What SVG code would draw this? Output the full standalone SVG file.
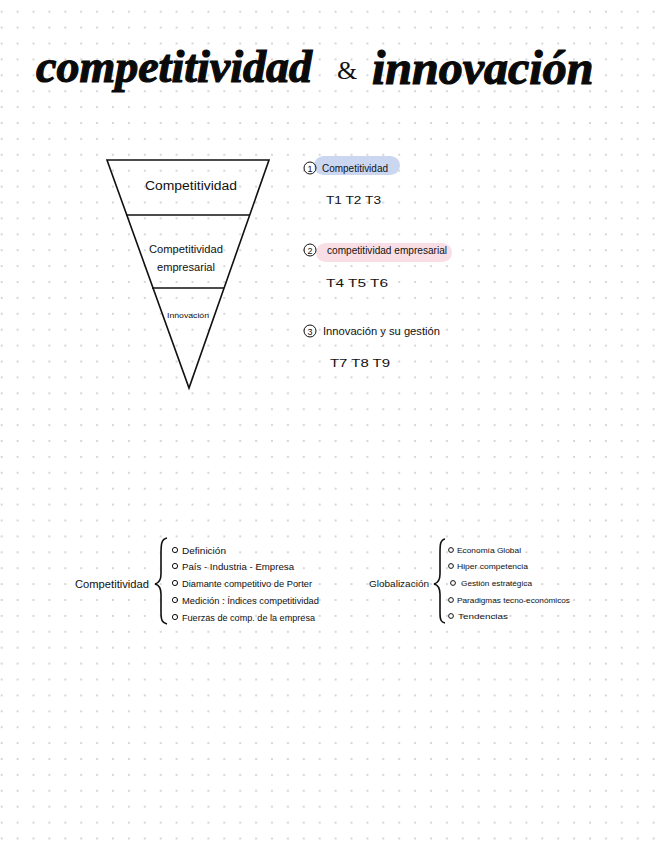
<svg xmlns="http://www.w3.org/2000/svg" width="656" height="848" viewBox="0 0 656 848">
<style>
.t{font-family:"Liberation Sans",Arial,sans-serif;fill:#111;}
.ln{stroke:#111;stroke-width:1.6;fill:none;}
.bul{stroke:#111;stroke-width:1;fill:none;}
.title{font-family:"Liberation Serif","Times New Roman",serif;font-style:italic;font-weight:bold;fill:#0a0a0a;stroke:#0a0a0a;stroke-width:1.2;}
</style>
<defs>
<pattern id="dots" x="1.7" y="11.7" width="15.9" height="15.9" patternUnits="userSpaceOnUse">
<circle cx="0" cy="0" r="0.9" fill="#c4c4c4"/>
<circle cx="15.9" cy="0" r="0.9" fill="#c4c4c4"/>
<circle cx="0" cy="15.9" r="0.9" fill="#c4c4c4"/>
<circle cx="15.9" cy="15.9" r="0.9" fill="#c4c4c4"/>
</pattern>
</defs>
<rect width="656" height="848" fill="#ffffff"/>
<rect width="656" height="848" fill="url(#dots)"/>

<g id="title">
<text class="title" x="36" y="82" font-size="46">competitividad</text>
<text x="337" y="79" font-size="26" font-family="Liberation Serif, serif" fill="#111">&amp;</text>
<text class="title" x="372" y="84" font-size="48">innovación</text>
</g>

<g id="pyramid">
<polygon class="ln" points="107,160 269,160 189,388"/>
<line class="ln" x1="126.3" y1="215" x2="249.7" y2="215"/>
<line class="ln" x1="152" y1="288" x2="224" y2="288"/>
<text class="t" x="191" y="190" font-size="12" text-anchor="middle" textLength="92" lengthAdjust="spacingAndGlyphs">Competitividad</text>
<text class="t" x="186" y="253" font-size="10" text-anchor="middle" textLength="74" lengthAdjust="spacingAndGlyphs">Competitividad</text>
<text class="t" x="186" y="271" font-size="10" text-anchor="middle" textLength="58" lengthAdjust="spacingAndGlyphs">empresarial</text>
<text class="t" x="188" y="318" font-size="8" text-anchor="middle" textLength="42" lengthAdjust="spacingAndGlyphs">Innovación</text>
</g>

<g id="topic1">
<rect x="314" y="156" width="86" height="19" rx="9.5" fill="#cbd7f1"/>
<circle class="bul" cx="310" cy="168" r="6" stroke-width="1.4"/>
<text class="t" x="310" y="171.5" font-size="9" text-anchor="middle">1</text>
<text class="t" x="322" y="172" font-size="10" textLength="66" lengthAdjust="spacingAndGlyphs">Competitividad</text>
<text class="t" x="326" y="204" font-size="10" textLength="55" lengthAdjust="spacingAndGlyphs">T1  T2  T3</text>
</g>

<g id="topic2">
<rect x="316" y="243" width="136" height="19" rx="9.5" fill="#f9dfe5"/>
<circle class="bul" cx="310" cy="250" r="6" stroke-width="1.4"/>
<text class="t" x="310" y="253.5" font-size="9" text-anchor="middle">2</text>
<text class="t" x="327" y="254" font-size="10" textLength="120" lengthAdjust="spacingAndGlyphs">competitividad empresarial</text>
<text class="t" x="326" y="287" font-size="10" textLength="62" lengthAdjust="spacingAndGlyphs">T4   T5   T6</text>
</g>

<g id="topic3">
<circle class="bul" cx="310" cy="331" r="6" stroke-width="1.4"/>
<text class="t" x="310" y="334.5" font-size="9" text-anchor="middle">3</text>
<text class="t" x="323" y="335" font-size="10" textLength="117" lengthAdjust="spacingAndGlyphs">Innovación y su gestión</text>
<text class="t" x="330" y="367" font-size="10" textLength="60" lengthAdjust="spacingAndGlyphs">T7   T8   T9</text>
</g>

<g id="competitividad-list">
<text class="t" x="75" y="588" font-size="10" textLength="74" lengthAdjust="spacingAndGlyphs">Competitividad</text>
<path class="ln" d="M167,538 C161,539 161,545 161,555 L161,574 C161,580 159,583 155,584 C159,585 161,588 161,594 L161,612 C161,620 162,623 167,624" stroke-width="1.3"/>
<circle class="bul" cx="175" cy="550" r="2.6"/>
<text class="t" x="182" y="553.5" font-size="9" textLength="44" lengthAdjust="spacingAndGlyphs">Definición</text>
<circle class="bul" cx="175" cy="566" r="2.6"/>
<text class="t" x="182" y="569.5" font-size="9" textLength="112" lengthAdjust="spacingAndGlyphs">País - Industria - Empresa</text>
<circle class="bul" cx="175" cy="583" r="2.6"/>
<text class="t" x="182" y="586.5" font-size="9" textLength="130" lengthAdjust="spacingAndGlyphs">Diamante competitivo de Porter</text>
<circle class="bul" cx="175" cy="600" r="2.6"/>
<text class="t" x="182" y="603.5" font-size="9" textLength="137" lengthAdjust="spacingAndGlyphs">Medición : Índices competitividad</text>
<circle class="bul" cx="175" cy="617" r="2.6"/>
<text class="t" x="182" y="620.5" font-size="9" textLength="133" lengthAdjust="spacingAndGlyphs">Fuerzas de comp. de la empresa</text>
</g>

<g id="globalizacion-list">
<text class="t" x="369" y="587" font-size="9" textLength="60" lengthAdjust="spacingAndGlyphs">Globalización</text>
<path class="ln" d="M445,539 C440,540 440,545 440,554 L440,574 C440,580 438,583 434,584 C438,585 440,588 440,594 L440,613 C440,620 441,622 445,623" stroke-width="1.3"/>
<circle class="bul" cx="451" cy="550" r="2.4"/>
<text class="t" x="457" y="553" font-size="8" textLength="64" lengthAdjust="spacingAndGlyphs">Economía Global</text>
<circle class="bul" cx="451" cy="566" r="2.4"/>
<text class="t" x="457" y="569" font-size="8" textLength="71" lengthAdjust="spacingAndGlyphs">Hiper competencia</text>
<circle class="bul" cx="453" cy="583" r="2.4"/>
<text class="t" x="461" y="586" font-size="8" textLength="71" lengthAdjust="spacingAndGlyphs">Gestión estratégica</text>
<circle class="bul" cx="451" cy="600" r="2.4"/>
<text class="t" x="457" y="603" font-size="8" textLength="113" lengthAdjust="spacingAndGlyphs">Paradigmas tecno-económicos</text>
<circle class="bul" cx="451" cy="616" r="2.4"/>
<text class="t" x="458" y="619" font-size="8" textLength="50" lengthAdjust="spacingAndGlyphs">Tendencias</text>
</g>
</svg>
